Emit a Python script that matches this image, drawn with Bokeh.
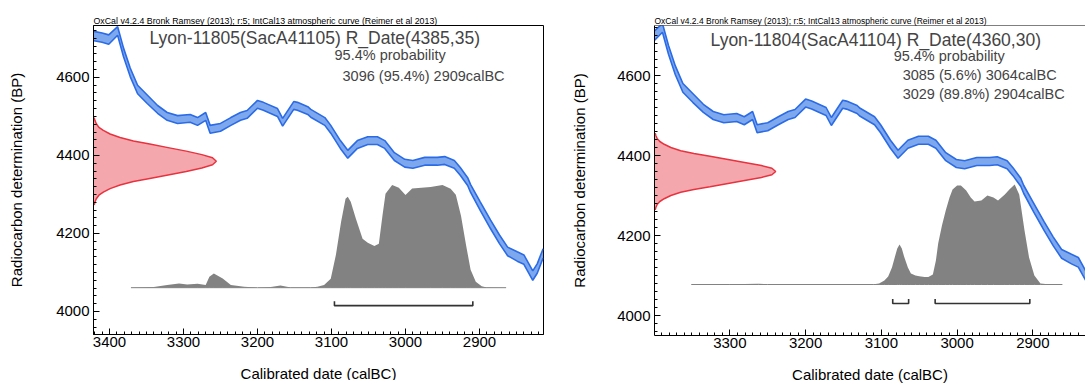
from bokeh.plotting import figure
from bokeh.layouts import row
from bokeh.models import Range1d, SingleIntervalTicker, Label, Span
from bokeh.embed import file_html
from bokeh.resources import INLINE

FONT = "Liberation Sans"

# ---------------- data ----------------
header = "OxCal v4.2.4 Bronk Ramsey (2013); r:5; IntCal13 atmospheric curve (Reimer et al 2013)"
x_label = "Calibrated date (calBC)"
y_label = "Radiocarbon determination (BP)"

# IntCal13 calibration curve (calBC, BP mid, 1 sigma)
curve_year = [3421, 3410, 3401, 3389, 3381, 3372, 3362, 3349, 3335, 3322, 3308, 3291,
              3281, 3270, 3264, 3250, 3236, 3223, 3214, 3200, 3192, 3173, 3166, 3151,
              3146, 3132, 3128, 3109, 3101, 3088, 3078, 3065, 3051, 3038, 3028, 3015,
              3001, 2990, 2974, 2957, 2947, 2934, 2926, 2916, 2912, 2899, 2885, 2873,
              2862, 2849, 2840, 2828, 2822, 2814]
curve_bp = [4706, 4702, 4697, 4719, 4664, 4613, 4569, 4544, 4518, 4500, 4492, 4495,
            4487, 4500, 4467, 4472, 4487, 4500, 4505, 4531, 4526, 4510, 4485, 4528,
            4526, 4515, 4508, 4487, 4467, 4428, 4403, 4428, 4438, 4438, 4428, 4397,
            4380, 4377, 4385, 4385, 4387, 4377, 4359, 4333, 4315, 4270, 4223, 4185,
            4154, 4141, 4133, 4092, 4110, 4149]
curve_sigma = [12, 12, 12, 11, 11, 11, 11, 11, 10, 10, 10, 10,
               10, 10, 10, 10, 10, 10, 10, 10, 10, 10, 10, 10,
               10, 10, 10, 10, 10, 10, 10, 10, 10, 10, 10, 10,
               10, 10, 10, 10, 10, 10, 10, 10, 10, 11, 11, 11,
               11, 12, 12, 12, 12, 12]

# Sample 1: Lyon-11805(SacA41105) R_Date(4385,35)
s1_title = "Lyon-11805(SacA41105) R_Date(4385,35)"
s1_prob = "95.4% probability"
s1_ranges_text = ["3096 (95.4%) 2909calBC"]
s1_range_start = [3096]
s1_range_end = [2909]
s1_rdate_bp = [4497, 4490, 4481, 4472, 4464, 4455, 4446, 4437, 4429, 4420, 4411, 4402, 4394,
               4385, 4376, 4368, 4359, 4350, 4341, 4333, 4324, 4315, 4306, 4298, 4289, 4280, 4273]
s1_rdate_dens = [0.006, 0.011, 0.023, 0.044, 0.080, 0.135, 0.216, 0.325, 0.458, 0.607, 0.755, 0.882, 0.969,
                 1.0, 0.969, 0.882, 0.755, 0.607, 0.458, 0.325, 0.216, 0.135, 0.080, 0.044, 0.023, 0.011, 0.006]
s1_post_year = [3371, 3340, 3322, 3306, 3295, 3281, 3270, 3265, 3259, 3247, 3236, 3218, 3200,
                3182, 3169, 3155, 3128, 3119, 3110, 3101, 3094, 3087, 3081, 3078, 3074, 3067,
                3058, 3051, 3042, 3036, 3031, 3027, 3018, 3009, 3000, 2991, 2966, 2950, 2939,
                2932, 2925, 2918, 2912, 2905, 2897, 2890, 2864]
s1_post_prob = [0, 0.7, 2.7, 4.3, 3.3, 4, 2.7, 11, 14.3, 9.3, 2.7, 1, 0,
                0.7, 2.3, 0.3, 0.3, 1, 2.7, 9, 33, 66, 89, 91, 86, 69,
                49, 45, 41.7, 44, 72.7, 94, 102.7, 100, 92.7, 99.3, 100.7, 102.7, 99,
                93, 72, 42, 18, 6, 1.5, 0.3, 0]

# Sample 2: Lyon-11804(SacA41104) R_Date(4360,30)
s2_title = "Lyon-11804(SacA41104) R_Date(4360,30)"
s2_prob = "95.4% probability"
s2_ranges_text = ["3085 (5.6%) 3064calBC", "3029 (89.8%) 2904calBC"]
s2_range_start = [3085, 3029]
s2_range_end = [3064, 2904]
s2_rdate_bp = [4456, 4450, 4442, 4435, 4428, 4420, 4412, 4405, 4398, 4390, 4382, 4375, 4368,
               4360, 4352, 4345, 4338, 4330, 4322, 4315, 4308, 4300, 4292, 4285, 4278, 4270, 4264]
s2_rdate_dens = [0.006, 0.011, 0.023, 0.044, 0.080, 0.135, 0.216, 0.325, 0.458, 0.607, 0.755, 0.882, 0.969,
                 1.0, 0.969, 0.882, 0.755, 0.607, 0.458, 0.325, 0.216, 0.135, 0.080, 0.044, 0.023, 0.011, 0.006]
s2_post_year = [3351, 3300, 3262, 3250, 3110, 3103, 3096, 3091, 3086, 3082, 3079, 3076, 3073,
                3070, 3065, 3061, 3055, 3050, 3043, 3038, 3032, 3028, 3025, 3020, 3015, 3010,
                3006, 3000, 2995, 2988, 2982, 2977, 2968, 2960, 2952, 2946, 2937, 2931, 2924,
                2918, 2911, 2905, 2898, 2890, 2880, 2861]
s2_post_prob = [0, 0.3, 0.8, 0.2, 0.3, 1, 4, 8, 17, 28, 36, 40, 36,
                28, 17, 11, 9, 8.3, 7.6, 7.6, 10, 24, 41, 59, 74, 87,
                95, 99, 99, 94, 87, 83, 84, 89, 87, 84, 90, 95, 100,
                90, 54, 27, 9, 1, 0.3, 0]

# ---------------- styling ----------------
BLUE_FILL = "#7ea8ee"
BLUE_LINE = "#2b6be6"
RED_FILL = "#f5a7ae"
RED_LINE = "#e8333f"
GREY = "#828282"


def style_axes(p, label_standoff_y, label_standoff_x):
    for ax in (p.xaxis[0], p.yaxis[0]):
        ax.axis_line_color = "black"
        ax.major_tick_line_color = "black"
        ax.minor_tick_line_color = "black"
        ax.major_tick_in = 6
        ax.major_tick_out = 0
        ax.minor_tick_in = 3
        ax.minor_tick_out = 0
        ax.major_label_text_font = FONT
        ax.major_label_text_font_size = "15px"
        ax.major_label_text_color = "black"
        ax.axis_label_text_font = FONT
        ax.axis_label_text_font_style = "normal"
        ax.axis_label_text_font_size = "15px"
        ax.axis_label_text_color = "black"
    p.xaxis[0].ticker = SingleIntervalTicker(interval=100, num_minor_ticks=10)
    p.yaxis[0].ticker = SingleIntervalTicker(interval=200, num_minor_ticks=10)
    p.xaxis[0].axis_label = x_label
    p.yaxis[0].axis_label = y_label
    p.xaxis[0].major_label_standoff = 2
    p.yaxis[0].major_label_standoff = 4
    p.xaxis[0].axis_label_standoff = label_standoff_x
    p.yaxis[0].axis_label_standoff = label_standoff_y
    p.xgrid.visible = False
    p.ygrid.visible = False


def make_panel(xr, yr, fw, fh, mb, title, prob, ranges_text, rstart, rend,
               rdate_bp, rdate_dens, red_width, post_year, post_prob, base_bp, post_scale,
               bracket_bp, txt, header_size, ylab_standoff, xlab_standoff, outline):
    p = figure(x_range=Range1d(*xr), y_range=Range1d(*yr),
               frame_width=fw, frame_height=fh,
               min_border_left=mb[0], min_border_right=mb[1],
               min_border_top=mb[2], min_border_bottom=mb[3],
               output_backend="svg", toolbar_location=None,
               background_fill_color="white", border_fill_color="white")
    style_axes(p, ylab_standoff, xlab_standoff)
    p.title.text = header
    p.title.text_font = FONT
    p.title.text_font_size = header_size
    p.title.text_font_style = "normal"
    p.title.text_color = "black"
    p.title.align = "left"
    p.title.offset = 0
    p.title.standoff = 0
    if outline:
        p.outline_line_color = "black"
        p.outline_line_width = 1
    else:
        p.outline_line_color = None
        p.add_layout(Span(location=yr[1], dimension="width", line_color="black", line_width=1))

    # calibration curve band
    lo = [m - s for m, s in zip(curve_bp, curve_sigma)]
    hi = [m + s for m, s in zip(curve_bp, curve_sigma)]
    p.varea(x=curve_year, y1=lo, y2=hi, fill_color=BLUE_FILL)
    p.line(curve_year, lo, line_color=BLUE_LINE, line_width=1.6)
    p.line(curve_year, hi, line_color=BLUE_LINE, line_width=1.6)

    # radiocarbon date distribution (on y axis)
    x0 = xr[0]
    rx = [x0 - d * red_width for d in rdate_dens]
    p.harea(y=rdate_bp, x1=[x0] * len(rdate_bp), x2=rx, fill_color=RED_FILL)
    p.line(rx, rdate_bp, line_color=RED_LINE, line_width=1.5)

    # calibrated distribution
    top = [base_bp + v * post_scale for v in post_prob]
    p.varea(x=post_year, y1=[base_bp] * len(post_year), y2=top, fill_color=GREY)
    p.line(post_year, [base_bp] * len(post_year), line_color=GREY, line_width=1)

    # 95.4% range brackets
    xs = [[s, s, e, e] for s, e in zip(rstart, rend)]
    ys = [[bracket_bp + 11, bracket_bp, bracket_bp, bracket_bp + 11] for _ in rstart]
    p.multi_line(xs, ys, line_color="#333333", line_width=1.6)

    # texts
    p.add_layout(Label(x=txt[0][0], y=txt[0][1], text=title, text_font=FONT,
                       text_font_size="17.5px", text_baseline="middle", text_align="left"))
    p.add_layout(Label(x=txt[1][0], y=txt[1][1], text=prob, text_font=FONT,
                       text_font_size="14.5px", text_baseline="middle", text_align="left"))
    for i, t in enumerate(ranges_text):
        p.add_layout(Label(x=txt[2][0], y=txt[2][1] - i * txt[3], text=t, text_font=FONT,
                           text_font_size="14.5px", text_baseline="middle", text_align="left"))
    return p


p1 = make_panel((3421.6, 2813.5), (3941, 4733), 450, 309, (93, 14, 21, 50),
                s1_title, s1_prob, s1_ranges_text, s1_range_start, s1_range_end,
                s1_rdate_bp, s1_rdate_dens, 166, s1_post_year, s1_post_prob, 4061, 2.56,
                4015, [(3345.9, 4700), (3095.9, 4657), (3085.1, 4603), 0],
                "8.8px", 28, 15, True)

p2 = make_panel((3399.5, 2830.5), (3950, 4725), 431, 310, (97, 0, 25, 45),
                s2_title, s2_prob, s2_ranges_text, s2_range_start, s2_range_end,
                s2_rdate_bp, s2_rdate_dens, 160, s2_post_year, s2_post_prob, 4077.5, 2.5,
                4030, [(3325.5, 4690), (3083.8, 4650), (3071.9, 4602.5), 47.5],
                "8.5px", 26, 15, False)

layout = row(p1, p2, spacing=0)
open("out.html", "w").write(file_html(layout, INLINE))
